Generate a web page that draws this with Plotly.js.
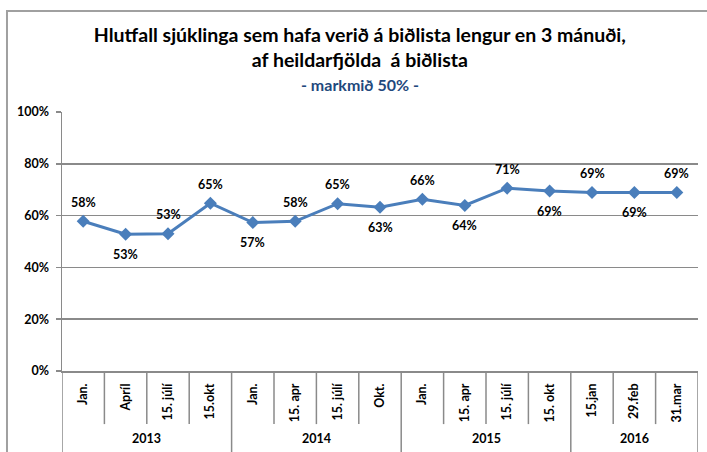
<!DOCTYPE html>
<html>
<head>
<meta charset="utf-8">
<script src="https://cdn.plot.ly/plotly-3.0.1.min.js"></script>
<style>
html,body{margin:0;padding:0;background:#fff;}
#chart{width:707px;height:452px;}
</style>
</head>
<body>
<div id="chart"></div>
<script>
// ---- data ----
var years = ["2013","2013","2013","2013","2014","2014","2014","2014","2015","2015","2015","2015","2016","2016","2016"];
var periods = ["Jan.","Apríl","15. júlí","15.okt","Jan.","15. apr","15. júlí","Okt.","Jan.","15. apr","15. júlí","15. okt","15.jan","29.feb","31.mar"];
var values = [57.8, 52.8, 53.0, 64.8, 57.3, 57.8, 64.6, 63.2, 66.3, 63.9, 70.6, 69.5, 68.9, 68.9, 68.9];
var labelText = ["58%","53%","53%","65%","57%","58%","65%","63%","66%","64%","71%","69%","69%","69%","69%"];
var labelSide = ["above","below","above","above","below","above","above","below","above","below","above","below","above","below","above"];
var yTicks = [0,20,40,60,80,100];
var yTickText = ["0%","20%","40%","60%","80%","100%"];

var FONT = "Lato, 'Open Sans', Arial, sans-serif";
var GRID = "#8a8a8a";
var LBL = 12.5;
var idx = periods.map(function(_, i){ return i; });

var trace = {
  x: idx, y: values, type: "scatter", mode: "lines+markers",
  line: {color: "#4A7EBB", width: 3},
  marker: {symbol: "diamond", size: 10, color: "#4A7EBB"},
  hoverinfo: "skip", showlegend: false
};

var annotations = [];
// data labels
idx.forEach(function(i){
  annotations.push({
    x: i, y: values[i], xref: "x", yref: "y", text: "<b>" + labelText[i] + "</b>",
    showarrow: false, font: {family: FONT, size: LBL, color: "#000"},
    yshift: labelSide[i] === "above" ? 19 : -20
  });
});
// year groups
var groups = [];
years.forEach(function(y, i){
  if (!groups.length || groups[groups.length-1].name !== y) groups.push({name: y, start: i, end: i});
  else groups[groups.length-1].end = i;
});
var shapes = [];
groups.forEach(function(g){
  annotations.push({
    x: (g.start + g.end) / 2, y: -0.259, xref: "x", yref: "paper",
    text: "<b>" + g.name + "</b>", showarrow: false, yanchor: "middle",
    font: {family: FONT, size: LBL, color: "#000"}
  });
});
// dividers between categories
var groupBounds = {};
groups.forEach(function(g){ groupBounds[g.start - 0.5] = true; groupBounds[g.end + 0.5] = true; });
for (var b = -0.5; b <= periods.length - 0.5; b += 1) {
  shapes.push({
    type: "line", xref: "x", yref: "paper", x0: b, x1: b, y0: 0,
    y1: groupBounds[b] ? -0.5 : -0.205,
    line: {color: GRID, width: 1.5}
  });
}
// outer frame
shapes.push({type: "rect", xref: "paper", yref: "paper", x0: -0.0865, x1: 1.05, y0: -0.6, y1: 1.39,
  line: {color: "#a0a0a0", width: 2}, layer: "below"});

annotations.push({
  xref: "paper", yref: "paper", x: 0.469, y: 1.0 + (111.7 - 84) / 259, yanchor: "middle",
  text: "<b>- markmið 50% -</b>", showarrow: false,
  font: {family: FONT, size: 16, color: "#1F497D"}
});

var layout = {
  width: 707, height: 452,
  margin: {l: 62, r: 9, t: 111.7, b: 81.3},
  paper_bgcolor: "#fff", plot_bgcolor: "#fff",
  title: {
    text: "<b>Hlutfall sjúklinga sem hafa verið á biðlista lengur en 3 mánuði,<br>af heildarfjölda  á biðlista</b>",
    font: {family: FONT, size: 19.5, color: "#000"},
    x: 0.509, xanchor: "center", y: 1 - 42/452, yanchor: "middle"
  },
  xaxis: {
    type: "linear", range: [-0.5, periods.length - 0.5],
    tickvals: idx, ticktext: periods.map(function(p){ return "<b>" + p + "</b>"; }),
    tickangle: -90, ticks: "", showgrid: false, zeroline: false,
    showline: true, linecolor: GRID, linewidth: 1.5,
    tickfont: {family: FONT, size: LBL, color: "#000"}, ticklabelstandoff: 6,
    fixedrange: true
  },
  yaxis: {
    range: [0, 100], tickvals: yTicks, ticktext: yTickText.map(function(t){ return "<b>" + t + "</b>"; }),
    showgrid: true, gridcolor: GRID, gridwidth: 1.5, zeroline: false,
    showline: true, linecolor: GRID, linewidth: 1.5,
    ticks: "outside", ticklen: 5, tickcolor: GRID, tickwidth: 1.5,
    tickfont: {family: FONT, size: LBL, color: "#000"}, ticklabelstandoff: 4,
    fixedrange: true
  },
  annotations: annotations,
  shapes: shapes
};

Plotly.newPlot("chart", [trace], layout, {displayModeBar: false, staticPlot: true});
</script>
</body>
</html>
